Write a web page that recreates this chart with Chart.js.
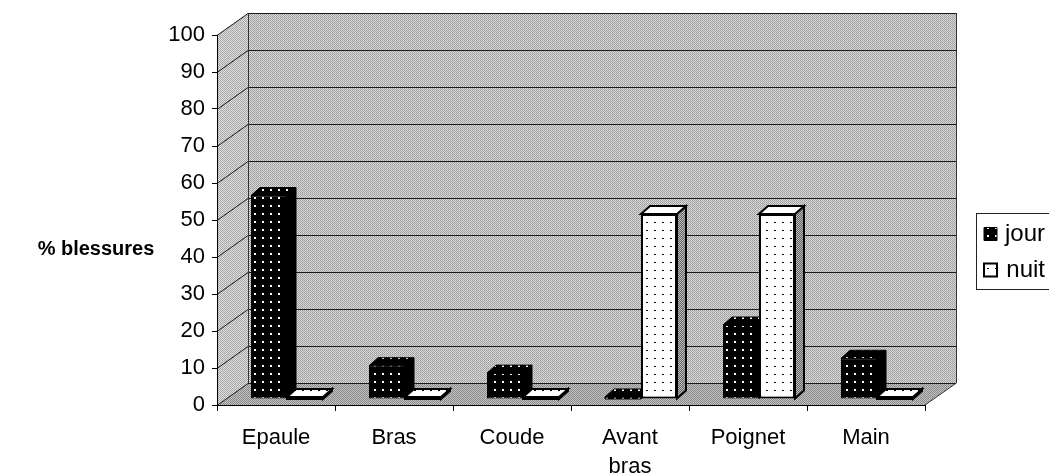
<!DOCTYPE html>
<html><head><meta charset="utf-8">
<script src="https://cdn.jsdelivr.net/npm/chart.js@4.4.1/dist/chart.umd.min.js"></script>
<style>html,body{margin:0;padding:0;background:#fff}#wrap{width:1049px;height:474px}</style>
</head><body><div id="wrap"><canvas id="c" width="1049" height="474"></canvas></div>
<script>
// ---- data ----
const categories = ['Epaule', 'Bras', 'Coude', ['Avant', 'bras'], 'Poignet', 'Main'];
const seriesNames = ['jour', 'nuit'];
const jourValues = [55, 9, 7, 0, 20, 11];
const nuitValues = [0, 0, 0, 50, 50, 0];
const yMin = 0, yMax = 100, yStep = 10;
const yTitle = '% blessures';

// ---- styling constants ----
const FONT = "'Liberation Sans', Arial, sans-serif";
const WALL_DX = 31, WALL_DY = -22;   // depth of 3D walls
const ROW_DX = 11, ROW_DY = -6;      // position of the bar row inside the depth
const BAR_DX = 9, BAR_DY = -8;       // depth of a bar

const canvas = document.getElementById('c');
const ctx0 = canvas.getContext('2d');
function pattern(w, h, draw) {
  const c = document.createElement('canvas'); c.width = w; c.height = h;
  const g = c.getContext('2d'); draw(g); return ctx0.createPattern(c, 'repeat');
}
function px(g, x, y, col) { g.fillStyle = col; g.fillRect(x, y, 1, 1); }
const jourPat = pattern(8, 8, g => { g.fillStyle = '#000'; g.fillRect(0,0,8,8); g.fillStyle = '#fff'; g.fillRect(3,3,2,2); });
const nuitPat = pattern(8, 8, g => { g.fillStyle = '#fff'; g.fillRect(0,0,8,8); g.fillStyle = '#000'; g.fillRect(4,4,1,1); g.fillRect(3,4,1,1); });
const nuitSidePat = pattern(2, 2, g => { px(g,0,0,'#666'); px(g,1,1,'#666'); px(g,1,0,'#bbb'); px(g,0,1,'#bbb'); });
const wallPat = pattern(2, 2, g => { px(g,0,0,'#9c9c9c'); px(g,1,1,'#a8a8a8'); px(g,1,0,'#dadada'); px(g,0,1,'#d4d4d4'); });
const sidePat = pattern(2, 2, g => { px(g,0,0,'#a4a4a4'); px(g,1,1,'#acacac'); px(g,1,0,'#e0e0e0'); px(g,0,1,'#dcdcdc'); });
const floorPat = pattern(2, 2, g => { px(g,0,0,'#888'); px(g,1,1,'#8e8e8e'); px(g,1,0,'#c4c4c4'); px(g,0,1,'#bebebe'); });

function poly(ctx, pts, fill, stroke, lw) {
  ctx.beginPath(); ctx.moveTo(pts[0][0], pts[0][1]);
  for (let i = 1; i < pts.length; i++) ctx.lineTo(pts[i][0], pts[i][1]);
  ctx.closePath();
  if (fill) { ctx.fillStyle = fill; ctx.fill(); }
  if (stroke) { ctx.strokeStyle = stroke; ctx.lineWidth = lw || 1; ctx.stroke(); }
}

const LEG_PAD = 12;
const framePlugin = {
  id: 'frame3d',
  beforeInit(chart) {
    const lg = chart.legend;
    if (lg) {
      const fit = lg.fit.bind(lg);
      lg.fit = function () { fit(); this.width = 124; };
    }
  },
  afterLayout(chart) {
    const lg = chart.legend;
    if (lg) {
      lg.left = 984 - LEG_PAD; lg.right = 1045; lg.width = lg.right - lg.left;
      lg.top = 210; lg.bottom = 300; lg.height = 90;
    }
  },
  beforeDraw(chart) {
    const { ctx, chartArea: a, scales: { y } } = chart;
    const L = a.left, R = a.right, T = y.getPixelForValue(yMax), B = y.getPixelForValue(yMin);
    ctx.save();
    poly(ctx, [[L+WALL_DX, T+WALL_DY], [R+WALL_DX, T+WALL_DY], [R+WALL_DX, B+WALL_DY], [L+WALL_DX, B+WALL_DY]], wallPat);
    poly(ctx, [[L, T], [L+WALL_DX, T+WALL_DY], [L+WALL_DX, B+WALL_DY], [L, B]], sidePat);
    poly(ctx, [[L, B], [R, B], [R+WALL_DX, B+WALL_DY], [L+WALL_DX, B+WALL_DY]], floorPat);
    ctx.strokeStyle = '#1a1a1a'; ctx.lineWidth = 1;
    for (let v = yMin; v <= yMax; v += yStep) {
      const yy = Math.round(y.getPixelForValue(v)) + 0.5;
      ctx.beginPath();
      ctx.moveTo(L, yy); ctx.lineTo(L+WALL_DX, yy+WALL_DY); ctx.lineTo(R+WALL_DX, yy+WALL_DY);
      ctx.stroke();
    }
    ctx.strokeStyle = '#333';
    ctx.beginPath();
    ctx.moveTo(L+WALL_DX+0.5, T+WALL_DY); ctx.lineTo(L+WALL_DX+0.5, B+WALL_DY);
    ctx.moveTo(R+WALL_DX+0.5, T+WALL_DY); ctx.lineTo(R+WALL_DX+0.5, B+WALL_DY);
    ctx.lineTo(R, B);
    ctx.stroke();
    ctx.restore();
  },
  beforeDatasetsDraw(chart) {
    const ctx = chart.ctx;
    const metas = chart.data.datasets.map((d, i) => chart.getDatasetMeta(i));
    ctx.save();
    ctx.translate(ROW_DX, ROW_DY);
    const n = chart.data.labels.length;
    for (let i = 0; i < n; i++) {
      metas.forEach((meta, di) => {
        const el = meta.data[i];
        const ds = chart.data.datasets[di];
        const x0 = el.x - el.width / 2, x1 = el.x + el.width / 2;
        const top = Math.min(el.y, el.base), base = el.base;
        const lw = ds.borderWidth;
        const topFill = ds.backgroundColor;
        const sideFill = di === 0 ? '#000' : nuitSidePat;
        if (base - top < 1) {
          poly(ctx, [[x0, base-2], [x1, base-2], [x1, base], [x0, base]], topFill, '#000', lw);
          poly(ctx, [[x1, base-2], [x1+BAR_DX, base-2+BAR_DY], [x1+BAR_DX, base+BAR_DY], [x1, base]], sideFill, '#000', lw);
          poly(ctx, [[x0, base-2], [x1, base-2], [x1+BAR_DX, base-2+BAR_DY], [x0+BAR_DX, base-2+BAR_DY]], topFill, '#000', lw);
          return;
        }
        poly(ctx, [[x1, top], [x1+BAR_DX, top+BAR_DY], [x1+BAR_DX, base+BAR_DY], [x1, base]], sideFill, '#000', lw);
        poly(ctx, [[x0, top], [x1, top], [x1+BAR_DX, top+BAR_DY], [x0+BAR_DX, top+BAR_DY]], topFill, '#000', lw);
        el.draw(ctx, chart.chartArea);
      });
    }
    ctx.restore();
    return false;
  },
  afterDraw(chart) {
    const ctx = chart.ctx;
    ctx.save();
    ctx.font = 'bold 20px ' + FONT;
    ctx.fillStyle = '#000'; ctx.textAlign = 'center'; ctx.textBaseline = 'middle';
    ctx.fillText(yTitle, 96, 249);
    ctx.strokeStyle = '#222'; ctx.lineWidth = 1;
    ctx.strokeRect(976.5, 213.5, 90, 76);
    ctx.restore();
  }
};

new Chart(canvas, {
  type: 'bar',
  data: {
    labels: categories,
    datasets: [
      { label: seriesNames[0], data: jourValues, backgroundColor: jourPat, borderColor: '#000', borderWidth: 1, borderSkipped: false, categoryPercentage: 0.61, barPercentage: 1 },
      { label: seriesNames[1], data: nuitValues, backgroundColor: nuitPat, borderColor: '#000', borderWidth: 2, borderSkipped: false, categoryPercentage: 0.61, barPercentage: 1 }
    ]
  },
  options: {
    responsive: false,
    animation: false,
    devicePixelRatio: 1,
    layout: { padding: { top: 35, left: 0, right: 0, bottom: 0 } },
    plugins: {
      tooltip: { enabled: false },
      legend: {
        position: 'right',
        align: 'start',
        labels: { color: '#000', font: { family: FONT, size: 24 }, boxWidth: 13, boxHeight: 13, padding: LEG_PAD, textAlign: 'right' }
      }
    },
    scales: {
      x: {
        grid: { display: true, drawOnChartArea: false, drawTicks: true, tickLength: 6, color: '#000', offset: true },
        border: { display: true, color: '#000' },
        ticks: { color: '#000', font: { family: FONT, size: 22, lineHeight: 1.3 }, maxRotation: 0, autoSkip: false, padding: 13 },
        afterFit: s => { s.height = 69; }
      },
      y: {
        min: yMin, max: yMax,
        grid: { drawOnChartArea: false, drawTicks: true, tickLength: 5, color: '#000' },
        border: { display: true, color: '#000' },
        ticks: { stepSize: yStep, color: '#000', font: { family: FONT, size: 22 }, padding: 7 },
        afterFit: s => { s.width = 217; }
      }
    }
  },
  plugins: [framePlugin]
});
</script>
</body></html>
